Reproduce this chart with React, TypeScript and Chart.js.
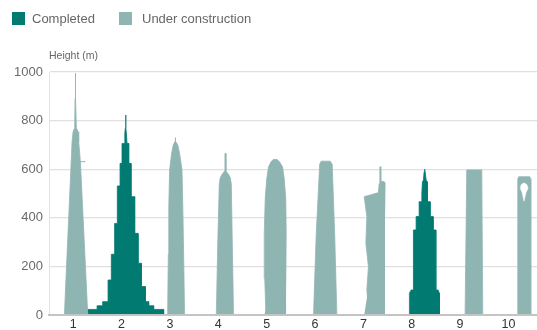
import React, { useEffect, useRef } from "react";
import { Chart, registerables } from "chart.js";

Chart.register(...registerables);

// ---- data ----
const categories = [1, 2, 3, 4, 5, 6, 7, 8, 9, 10];
const statusOf = ["under", "completed", "under", "under", "under", "under", "under", "completed", "under", "under"];
const yTicks = [0, 200, 400, 600, 800, 1000];
const legendLabels = ["Completed", "Under construction"];

// silhouettes: x offsets from the category position, heights in metres
const b1Off = [-0.182, -0.023, -0.002, 0.031, 0.039, 0.045, 0.052, 0.066, 0.101, 0.114, 0.149, 0.302];
const b1H = [0, 713, 754, 770, 892, 995, 892, 770, 754, 713, 631, 0];
const b1TickOff = [0.149, 0.252];
const b1TickH = [631, 631];

const b2Off = [-0.7, -0.7, -0.506, -0.506, -0.39, -0.39, -0.279, -0.279, -0.211, -0.211, -0.143, -0.143, -0.087, -0.087, -0.031, -0.031, 0.01, 0.01, 0.052, 0.068, 0.079, 0.085, 0.091, 0.099, 0.114, 0.147, 0.147, 0.196, 0.196, 0.271, 0.271, 0.341, 0.341, 0.409, 0.409, 0.492, 0.492, 0.56, 0.56, 0.663, 0.663, 0.87, 0.87];
const b2H = [0, 23, 23, 38, 38, 55, 55, 144, 144, 250, 250, 377, 377, 531, 531, 624, 624, 706, 706, 750, 770, 823, 770, 750, 706, 706, 624, 624, 487, 487, 336, 336, 213, 213, 117, 117, 55, 55, 38, 38, 23, 23, 0];

const b3Off = [-0.048, -0.033, -0.023, -0.006, 0.035, 0.07, 0.106, 0.112, 0.118, 0.163, 0.2, 0.25, 0.271, 0.304];
const b3H = [0, 250, 450, 597, 665, 700, 715, 730, 715, 700, 665, 597, 400, 0];

const b4Off = [-0.041, -0.01, 0.021, 0.041, 0.083, 0.13, 0.138, 0.151, 0.159, 0.207, 0.248, 0.269, 0.289, 0.316];
const b4H = [0, 300, 540, 565, 580, 592, 665, 665, 592, 580, 565, 540, 300, 0];

const b5Off = [-0.05, -0.014, -0.039, -0.05, -0.029, 0.002, 0.039, 0.089, 0.136, 0.219, 0.267, 0.329, 0.364, 0.395, 0.405, 0.395, 0.384, 0.405];
const b5H = [0, 0, 150, 336, 480, 560, 610, 630, 640, 640, 630, 610, 560, 480, 336, 150, 0, 0];

const b6Off = [-0.031, 0.025, 0.097, 0.128, 0.314, 0.355, 0.407, 0.452];
const b6H = [0, 330, 620, 633, 633, 620, 330, 0];

const b7Off = [0.017, 0.12, 0.072, 0.105, 0.052, 0.072, 0.017, 0.285, 0.312, 0.326, 0.339, 0.343, 0.355, 0.36, 0.409, 0.45, 0.43, 0.395, 0.45];
const b7H = [0, 0, 103, 199, 295, 405, 487, 502, 505, 540, 545, 610, 610, 548, 550, 545, 300, 0, 0];

const b8Off = [-0.048, -0.048, -0.012, 0.035, 0.035, 0.091, 0.091, 0.153, 0.153, 0.209, 0.209, 0.221, 0.242, 0.256, 0.267, 0.277, 0.298, 0.318, 0.324, 0.324, 0.38, 0.38, 0.442, 0.442, 0.498, 0.498, 0.545, 0.572, 0.572];
const b8H = [0, 90, 103, 103, 350, 350, 405, 405, 466, 466, 500, 549, 555, 590, 600, 590, 555, 549, 500, 466, 466, 405, 405, 350, 350, 103, 103, 90, 0];

const b9Off = [0.103, 0.138, 0.448, 0.469];
const b9H = [0, 597, 597, 0];

const b10Off = [0.184, 0.192, 0.213, 0.44, 0.461, 0.461];
const b10H = [0, 560, 569, 569, 560, 0];
const b10HoleTopOff = [0.244, 0.26, 0.322, 0.384, 0.405];
const b10HoleTopH = [521, 535, 543, 535, 521];
const b10HoleBotOff = [0.244, 0.281, 0.322, 0.364, 0.405];
const b10HoleBotH = [521, 505, 468, 505, 521];

const outlines = [
  [b1Off, b1H], [b2Off, b2H], [b3Off, b3H], [b4Off, b4H], [b5Off, b5H],
  [b6Off, b6H], [b7Off, b7H], [b8Off, b8H], [b9Off, b9H], [b10Off, b10H],
];

const COMPLETED = "#017a72";
const UNDER = "#8fb5b3";

const pts = (cat: number, off: number[], h: number[]) => off.map((o, j) => ({ x: cat + o, y: h[j] }));

export default function App() {
  const ref = useRef<HTMLCanvasElement | null>(null);

  useEffect(() => {
    const datasets: any[] = [];
    // hole of building 10 (drawn on top)
    datasets.push({
      data: pts(categories[9], b10HoleTopOff, b10HoleTopH),
      fill: "+1", backgroundColor: "#ffffff", borderColor: "#ffffff", borderWidth: 0.5,
      pointRadius: 0, tension: 0.3, order: 0,
    });
    datasets.push({
      data: pts(categories[9], b10HoleBotOff, b10HoleBotH),
      fill: false, borderColor: "#ffffff", borderWidth: 0.5,
      pointRadius: 0, tension: 0, order: 0,
    });
    datasets.push({
      data: pts(categories[0], b1TickOff, b1TickH),
      fill: false, borderColor: UNDER, borderWidth: 1, pointRadius: 0, order: 1,
    });
    outlines.forEach(([off, h], i) => {
      const c = statusOf[i] === "completed" ? COMPLETED : UNDER;
      datasets.push({
        data: pts(categories[i], off, h),
        fill: "origin", backgroundColor: c, borderColor: c, borderWidth: 0.8,
        pointRadius: 0, tension: 0, order: 5,
      });
    });

    const chart = new Chart(ref.current as HTMLCanvasElement, {
      type: "line",
      data: { datasets },
      options: {
        animation: false,
        responsive: false,
        events: [],
        layout: { padding: { top: 72, left: 0, right: 0, bottom: 0 } },
        plugins: { legend: { display: false }, tooltip: { enabled: false } },
        scales: {
          x: {
            type: "linear",
            min: 0.5,
            max: 10.59,
            afterBuildTicks: (s: any) => { s.ticks = categories.map((v) => ({ value: v })); },
            afterFit: (s: any) => { s.height = 30; },
            grid: { display: false, drawTicks: false },
            border: { display: true, color: "#c4c4c4", width: 2, z: 1 },
            ticks: {
              padding: 2,
              color: "#333333",
              font: { family: "'Liberation Sans', Arial, sans-serif", size: 12.5 },
              callback: (v: any) => String(v),
              maxRotation: 0,
            },
          },
          y: {
            min: 0,
            max: 1000,
            afterBuildTicks: (s: any) => { s.ticks = yTicks.map((v) => ({ value: v })); },
            afterFit: (s: any) => { s.width = 49; },
            grid: {
              drawTicks: false,
              color: (c: any) => (c.tick && c.tick.value === 0 ? "#c4c4c4" : "#e4dfdf"),
              lineWidth: (c: any) => (c.tick && c.tick.value === 0 ? 2 : 1.2),
            },
            border: { display: true, color: "#e2e2e2", width: 1 },
            ticks: {
              padding: 6,
              color: "#6a6a6a",
              font: { family: "'Liberation Sans', Arial, sans-serif", size: 13 },
              callback: (v: any) => String(v),
            },
          },
        },
      },
    });
    return () => chart.destroy();
  }, []);

  const font = "'Liberation Sans', Arial, sans-serif";
  const sq = (color: string, left: number) => (
    <div style={{ position: "absolute", left, top: 12, width: 13, height: 13, background: color }} />
  );
  return (
    <div style={{ position: "fixed", left: 0, top: 0, width: 537, height: 330, overflow: "hidden", background: "#fff" }}>
      <canvas ref={ref} width={537} height={345} style={{ display: "block", width: 537, height: 345 }} />
      {sq(COMPLETED, 12)}
      <div style={{ position: "absolute", left: 32, top: 10, fontFamily: font, fontSize: 13, color: "#666", lineHeight: "17px" }}>{legendLabels[0]}</div>
      {sq(UNDER, 119)}
      <div style={{ position: "absolute", left: 142, top: 10, fontFamily: font, fontSize: 13, color: "#666", lineHeight: "17px" }}>{legendLabels[1]}</div>
      <div style={{ position: "absolute", left: 49, top: 48, fontFamily: font, fontSize: 10.5, color: "#666", lineHeight: "14px" }}>Height (m)</div>
    </div>
  );
}
